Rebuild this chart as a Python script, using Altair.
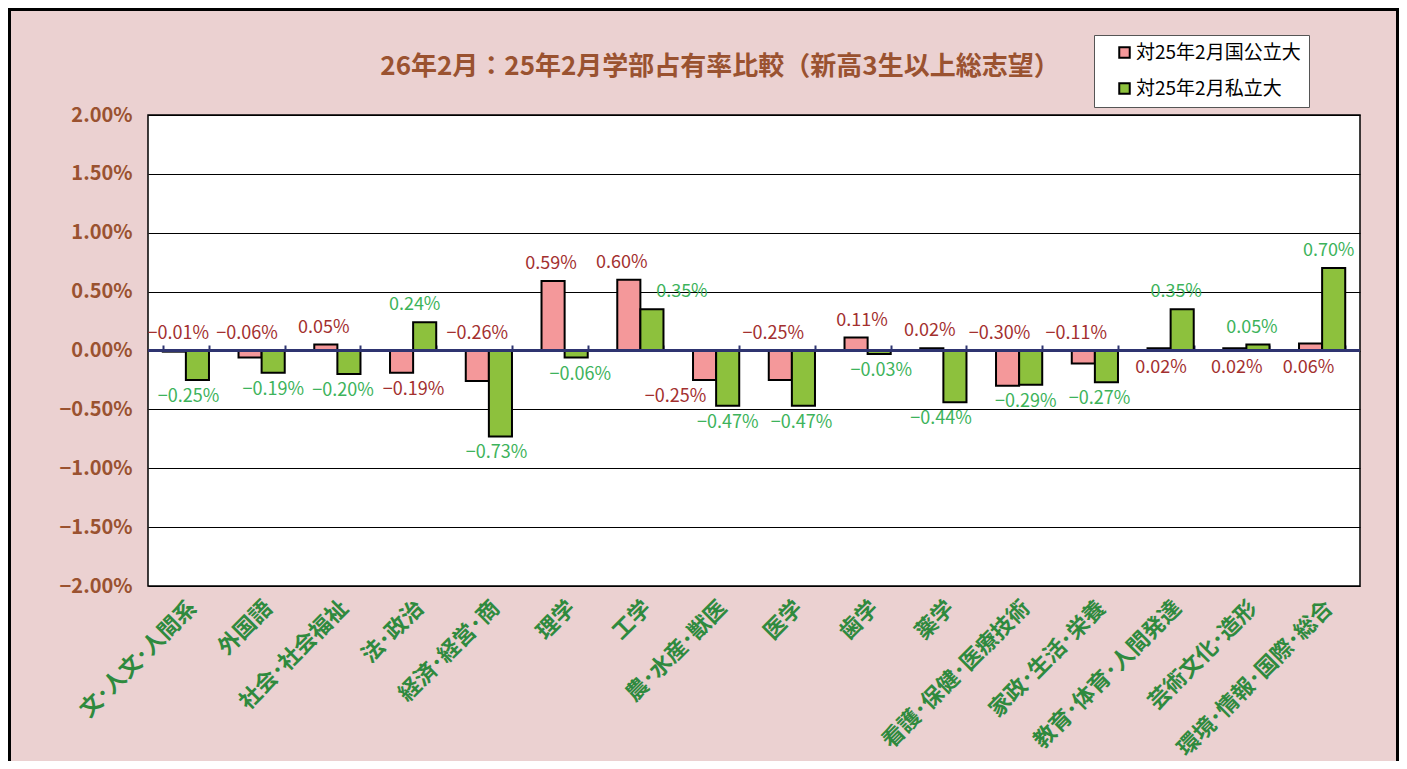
import altair as alt
import pandas as pd

# ---------------- data ----------------
categories = ["文・人文・人間系", "外国語", "社会・社会福祉", "法・政治", "経済・経営・商",
              "理学", "工学", "農・水産・獣医", "医学", "歯学", "薬学",
              "看護・保健・医療技術", "家政・生活・栄養", "教育・体育・人間発達",
              "芸術文化・造形", "環境・情報・国際・総合"]
series_names = ["対25年2月国公立大", "対25年2月私立大"]
national = [-0.01, -0.06, 0.05, -0.19, -0.26, 0.59, 0.60, -0.25, -0.25, 0.11,
            0.02, -0.30, -0.11, 0.02, 0.02, 0.06]
private = [-0.25, -0.19, -0.20, 0.24, -0.73, -0.06, 0.35, -0.47, -0.47, -0.03,
           -0.44, -0.29, -0.27, 0.35, 0.05, 0.70]
y_ticks = [-2.0, -1.5, -1.0, -0.5, 0.0, 0.5, 1.0, 1.5, 2.0]
title_text = "26年2月：25年2月学部占有率比較（新高3生以上総志望）"

# ---------------- label placement (style) ----------------
national_label_side = ["above", "above", "above", "below", "above", "above", "above",
                       "below", "above", "above", "above", "above", "above",
                       "below", "below", "below"]
national_label_nudge = [4, -3, -2, 12, 0, -2, -7, -29, -7, 6, -2, -8, -7, 2, 2, -2]
private_label_nudge = [-9, 0, -6, -10, -4, 4, 30, 0, -2, 2, -14, -5, -7, -6, -6, -5]

rows = []
for i, c in enumerate(categories):
    for s, v, side, nd in (
        (series_names[0], national[i], national_label_side[i], national_label_nudge[i]),
        (series_names[1], private[i], "above" if private[i] >= 0 else "below", private_label_nudge[i]),
    ):
        anchor = max(v, 0) if side == "above" else min(v, 0)
        rows.append({"cat": c, "s": s, "v": v, "side": side, "anchor": anchor,
                     "nudge": nd, "grp": f"{side}|{nd}"})
df = pd.DataFrame(rows)

# ---------------- styles ----------------
FONT = "Noto Sans CJK JP"
BG = "#EBD1D1"
PINK = "#F4989A"
GREEN = "#8DC13D"
PINK_TXT = "#A3302F"
GREEN_TXT = "#3DB35B"
XLAB = "#2F8A3E"
BROWN = "#9A5230"
NAVY = "#2F3570"

base = alt.Chart(df).transform_calculate(
    label="format(datum.v, '.2f') + '%'"
)

xscale = alt.Scale(paddingInner=0.39, paddingOuter=0.195)
xoff = alt.XOffset("s:N", sort=series_names, scale=alt.Scale(paddingInner=0, paddingOuter=0))
yscale = alt.Scale(domain=[-2, 2], nice=False)

bars = base.mark_bar(stroke="black", strokeWidth=2).encode(
    x=alt.X("cat:N", sort=categories, scale=xscale,
            axis=alt.Axis(title=None, labelAngle=-45, labelAlign="right", labelBaseline="top",
                          labelExpr="replace(datum.label, regexp('・', 'g'), '\uff65')",
                          labelFont=FONT, labelFontSize=22, labelFontWeight="bold",
                          labelColor=XLAB, labelPadding=11, ticks=False, domain=False,
                          grid=False, labelLimit=400)),
    xOffset=xoff,
    y=alt.Y("v:Q", scale=yscale,
            axis=alt.Axis(title=None, values=y_ticks,
                          labelExpr="format(datum.value, '.2f') + '%'",
                          labelFont=FONT, labelFontSize=20, labelFontWeight="bold",
                          labelColor=BROWN, labelPadding=16, ticks=False, domain=False,
                          grid=True, gridColor="black", gridWidth=1, gridOpacity=1)),
    color=alt.Color("s:N", sort=series_names,
                    scale=alt.Scale(domain=series_names, range=[PINK, GREEN]),
                    legend=alt.Legend(title=None, orient="none", legendX=946, legendY=-80,
                                      fillColor="white", strokeColor="#555555",
                                      padding=8, symbolOffset=13, symbolType="square",
                                      symbolSize=110, symbolStrokeColor="black",
                                      symbolStrokeWidth=2, labelFont=FONT,
                                      labelFontSize=19, labelColor="black",
                                      labelExpr="datum.label + '\u3000'", labelLimit=400,
                                      rowPadding=16, labelOffset=2)),
)

zero_axis = base.mark_point(opacity=0).encode(
    x=alt.X("cat:N", sort=categories, scale=xscale,
            axis=alt.Axis(title=None, orient="top", offset=-236, labels=False,
                          domain=False, grid=False, ticks=True, tickBand="extent",
                          tickSize=6, tickColor=NAVY, tickWidth=2)),
    y=alt.datum(0),
)

zero_rule = base.mark_rule(color=NAVY, strokeWidth=2.5).encode(y=alt.datum(0))

txt_color = alt.condition(alt.datum.s == series_names[0], alt.value(PINK_TXT), alt.value(GREEN_TXT))

label_layers = []
for grp in sorted(df["grp"].unique()):
    side, nd = grp.split("|")
    label_layers.append(
        base.transform_filter(alt.datum.grp == grp).mark_text(
            dx=int(nd), dy=-17 if side == "above" else 17, baseline="middle",
            align="center", font=FONT, fontSize=18
        ).encode(
            x=alt.X("cat:N", sort=categories, scale=xscale, axis=None),
            xOffset=xoff,
            y=alt.Y("anchor:Q", scale=yscale, title=None),
            text="label:N",
            color=txt_color,
        )
    )

title_layer = alt.Chart(pd.DataFrame({"t": [title_text]})).mark_text(
    font=FONT, fontSize=26, fontWeight="bold", color=BROWN, align="center", baseline="middle"
).encode(text="t:N", x=alt.value(572), y=alt.value(-48))

border = alt.Chart(pd.DataFrame({"a": [0]})).mark_rect(
    fillOpacity=0, stroke="black", strokeWidth=3
).encode(x=alt.value(-138.5), x2=alt.value(1249.5), y=alt.value(-105.5), y2=alt.value(680))

chart = alt.layer(
    bars, zero_axis, zero_rule, *label_layers, title_layer, border
).resolve_axis(x="independent").properties(
    width=1212, height=471,
    autosize=alt.AutoSizeParams(type="none"),
    padding={"left": 140, "top": 107, "right": 39, "bottom": 175},
    background=BG,
).configure_view(fill="white", stroke="black", strokeWidth=1.5)

chart.save("out.html", embed_options={"renderer": "svg", "actions": False})
